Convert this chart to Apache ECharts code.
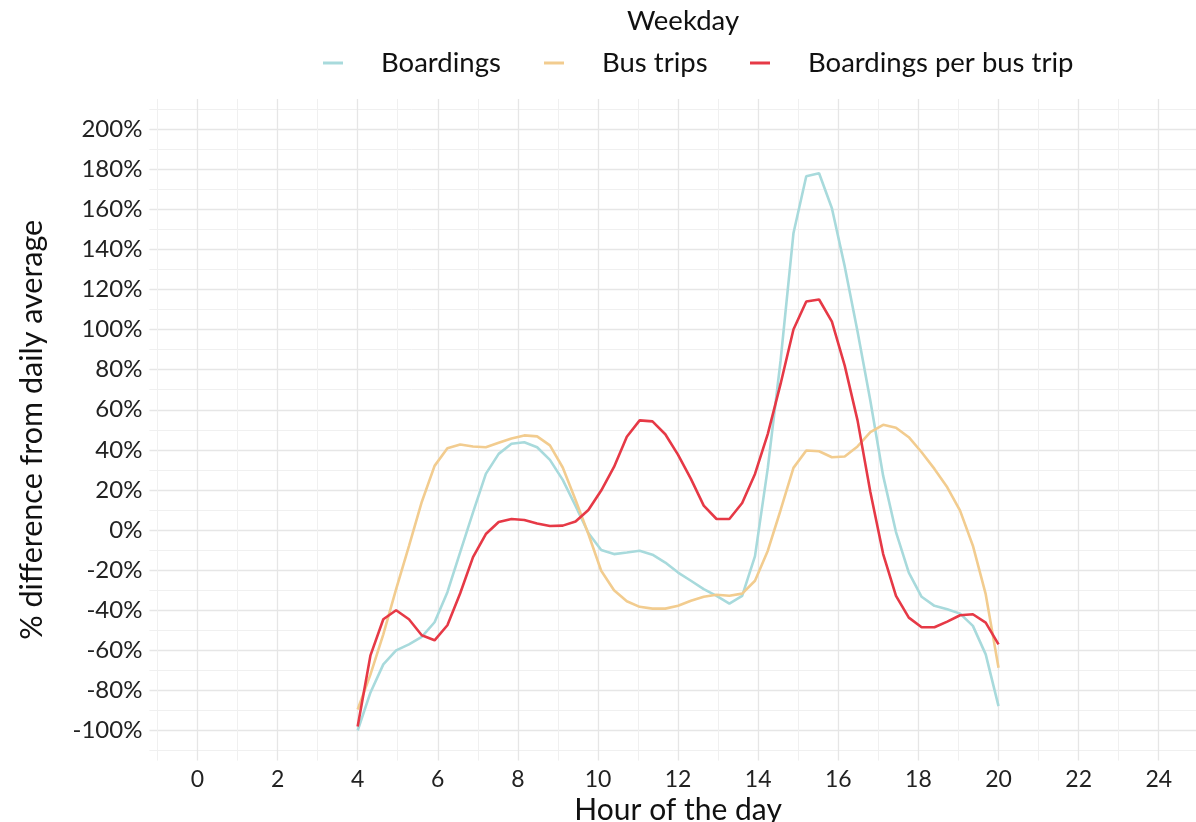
<!DOCTYPE html>
<html>
<head>
<meta charset="utf-8">
<script src="https://cdn.jsdelivr.net/npm/echarts@6/dist/echarts.min.js"></script>
<style>
html,body{margin:0;padding:0;background:#fff;}
#chart{width:1196px;height:822px;}
</style>
</head>
<body>
<div id="chart"></div>
<script>
// Hour of the day for each sample
const hours = [4.00,4.32,4.64,4.96,5.28,5.60,5.92,6.24,6.56,6.88,7.20,7.52,7.84,8.16,8.48,8.80,9.12,9.44,9.76,10.08,10.40,10.72,11.04,11.36,11.68,12.00,12.32,12.64,12.96,13.28,13.60,13.92,14.24,14.56,14.88,15.20,15.52,15.84,16.16,16.48,16.80,17.12,17.44,17.76,18.08,18.40,18.72,19.04,19.36,19.68,20.00];

// % difference from daily average
const boardings = [-100,-81,-67,-60,-57,-53.3,-46,-31,-11,8.8,28,38,43,43.8,41.3,35,25,12,-1.5,-10,-12,-11.2,-10.3,-12.3,-16.2,-21.2,-25.3,-29.5,-32.8,-36.7,-32.8,-13,31,84.7,148,176.5,178,160.5,131.5,99,64.5,27,-1,-21.2,-33.3,-37.8,-39.5,-41.7,-47.8,-62,-87.8];
const busTrips = [-89.5,-72,-52,-29.5,-8,14,32,40.8,42.7,41.7,41.3,43.5,45.7,47.2,46.7,42.2,31.2,15,-2,-20.3,-30,-35.5,-38.3,-39.2,-39.2,-37.8,-35.3,-33.3,-32.3,-32.8,-31.7,-25.3,-10.3,10,31,39.7,39.3,36.3,36.7,41.7,48.8,52.5,51,46.3,38.8,30.5,21.3,9.7,-7.8,-32,-68.7];
const perTrip = [-98,-62.5,-44.5,-40,-44.5,-52.5,-55,-47.5,-31.5,-13.5,-2,4,5.5,5,3.3,2,2.2,4.3,10,19.7,31.5,46.5,54.7,54.2,47.8,37.5,25.5,12.2,5.5,5.5,13.5,28,48,73,100,114,115,104,82,54.7,19,-12,-32.8,-43.7,-48.5,-48.5,-45.7,-42.5,-42,-46.2,-57];

const seriesNames = ['Boardings', 'Bus trips', 'Boardings per bus trip'];

// Tick positions
const xTicks = [0,2,4,6,8,10,12,14,16,18,20,22,24];
const xMinor = [-1,1,3,5,7,9,11,13,15,17,19,21,23,25];
const yTicks = [-100,-80,-60,-40,-20,0,20,40,60,80,100,120,140,160,180,200];
const yMinor = [-110,-90,-70,-50,-30,-10,10,30,50,70,90,110,130,150,170,190,210];

const FONT = 'Lato';
const chart = echarts.init(document.getElementById('chart'), null, {renderer: 'canvas'});

const colors = ['#a8dadc', '#f2cc8f', '#e63946'];

function legendItem(i, left) {
  return {
    show: true,
    data: [seriesNames[i]],
    left: left,
    top: 49,
    icon: 'rect',
    itemWidth: 20,
    itemHeight: 3,
    padding: 0,
    textStyle: {fontFamily: FONT, fontSize: 27.5, color: '#111', padding: [0, 0, 0, 33]}
  };
}

const option = {
  backgroundColor: '#ffffff',
  animation: false,
  title: {
    text: 'Weekday',
    left: 678,
    top: 2,
    textAlign: 'center',
    textStyle: {fontFamily: FONT, fontSize: 27.5, fontWeight: 'normal', color: '#111'}
  },
  legend: [legendItem(0, 323), legendItem(1, 544), legendItem(2, 750)],
  grid: {left: 149.4, right: -10.8, top: 99, bottom: 61.4, containLabel: false, outerBoundsMode: 'none'},
  xAxis: [
    {
      type: 'value', min: -1.2, max: 25.2, position: 'bottom',
      axisLine: {show: false}, axisLabel: {show: false},
      axisTick: {show: false, customValues: xMinor},
      splitLine: {show: true, lineStyle: {color: '#f0f0f0', width: 1}}
    },
    {
      type: 'value', min: -1.2, max: 25.2, position: 'bottom',
      name: 'Hour of the day', nameLocation: 'middle', nameGap: 28,
      nameTextStyle: {fontFamily: FONT, fontSize: 30, color: '#111'},
      axisLine: {show: false},
      axisTick: {show: false, customValues: xTicks},
      axisLabel: {show: true, customValues: xTicks, margin: 7, fontFamily: FONT, fontSize: 23, color: '#222'},
      splitLine: {show: true, lineStyle: {color: '#e6e6e6', width: 1.3}}
    }
  ],
  yAxis: [
    {
      type: 'value', min: -115, max: 215, position: 'left',
      axisLine: {show: false}, axisLabel: {show: false},
      axisTick: {show: false, customValues: yMinor},
      splitLine: {show: true, lineStyle: {color: '#f0f0f0', width: 1}}
    },
    {
      type: 'value', min: -115, max: 215, position: 'left',
      name: '% difference from daily average', nameLocation: 'middle', nameGap: 102,
      nameTextStyle: {fontFamily: FONT, fontSize: 30.5, color: '#111'},
      axisLine: {show: false},
      axisTick: {show: false, customValues: yTicks},
      axisLabel: {show: true, customValues: yTicks, margin: 7, fontFamily: FONT, fontSize: 24, color: '#222',
        formatter: v => v + '%'},
      splitLine: {show: true, lineStyle: {color: '#e6e6e6', width: 1.3}}
    }
  ],
  series: [boardings, busTrips, perTrip].map((arr, i) => ({
    name: seriesNames[i],
    type: 'line',
    xAxisIndex: 1,
    yAxisIndex: 1,
    data: hours.map((h, j) => [h, arr[j]]),
    showSymbol: false,
    symbol: 'none',
    color: colors[i],
    lineStyle: {color: colors[i], width: 2.6},
    z: 3 + i
  }))
};
chart.setOption(option);
</script>
</body>
</html>
